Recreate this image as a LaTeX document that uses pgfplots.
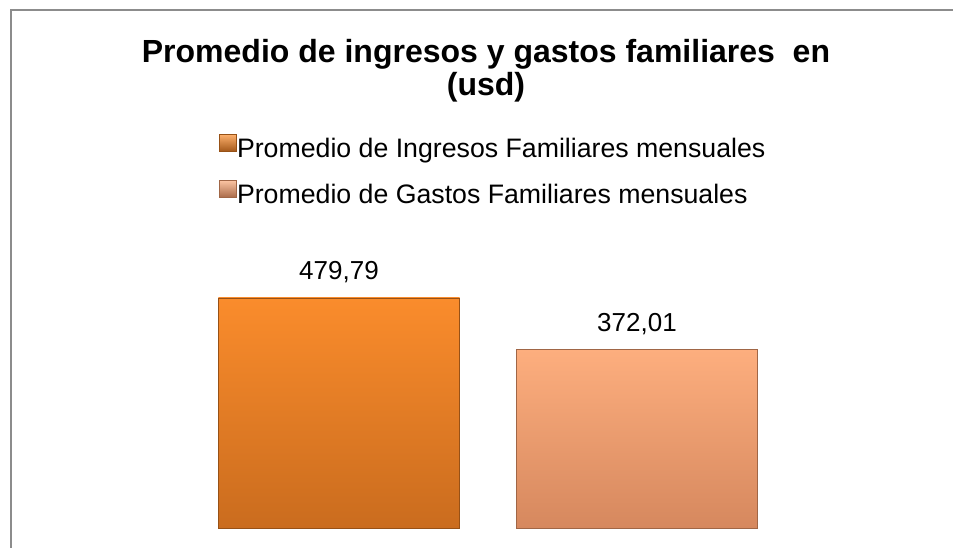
\documentclass[border=0pt]{standalone}
\usepackage{fontspec}
\setmainfont{Liberation Sans}
\usepackage{pgfplots}
\pgfplotsset{compat=1.18}

\definecolor{ingtop}{HTML}{FA8C2C}
\definecolor{ingbot}{HTML}{CA6C1E}
\definecolor{gastop}{HTML}{FDAE7E}
\definecolor{gasbot}{HTML}{D6885E}
\definecolor{framegray}{HTML}{8C8C8C}

\begin{document}
\begin{tikzpicture}[x=1pt,y=1pt]
\useasboundingbox (0,0) rectangle (953,548);
\draw[framegray, line width=2pt] (11,0) -- (11,538) -- (953,538);

\begin{axis}[
    at={(190pt,20pt)}, anchor=south west,
    scale only axis,
    width=596pt, height=239.7pt,
    xmin=0.5, xmax=2.5,
    ymin=0, ymax=500,
    hide axis,
    clip=false,
    nodes near coords,
    /pgf/number format/assume math mode=true,
    /pgf/number format/use comma,
    /pgf/number format/fixed,
    /pgf/number format/fixed zerofill,
    /pgf/number format/precision=2,
    every node near coord/.append style={
        font=\fontsize{26}{30}\selectfont, text=black,
        anchor=base, yshift=18pt
    },
    legend cell align=left,
    legend style={
        draw=none, fill=none,
        at={(0.0437,1.652)}, anchor=north west,
        font=\fontsize{26.7}{30}\selectfont,
        nodes={inner sep=0pt, text height=19pt, text depth=5pt},
        row sep=17pt,
    },
]
\addplot[ybar, bar width=0.809, top color=ingtop, bottom color=ingbot,
    draw=ingbot!75!black, line width=0.8pt,
    legend image code/.code={\shade[top color=ingtop!70!white, bottom color=ingbot!80!black] (0pt,-1pt) rectangle (17pt,16pt);}]
    coordinates {(1,479.79)};
\addlegendentry{Promedio de Ingresos Familiares mensuales}
\addplot[ybar, bar width=0.809, top color=gastop, bottom color=gasbot,
    draw=gasbot!75!black, line width=0.8pt,
    legend image code/.code={\shade[top color=gastop!70!white, bottom color=gasbot!80!black] (0pt,-1pt) rectangle (17pt,16pt);}]
    coordinates {(2,372.01)};
\addlegendentry{Promedio de Gastos Familiares mensuales}
\end{axis}

\node[anchor=base, align=center, font=\bfseries\fontsize{32}{33}\selectfont]
    at (486,452) {Promedio de ingresos y gastos familiares~ en\\(usd)};
\end{tikzpicture}
\end{document}
